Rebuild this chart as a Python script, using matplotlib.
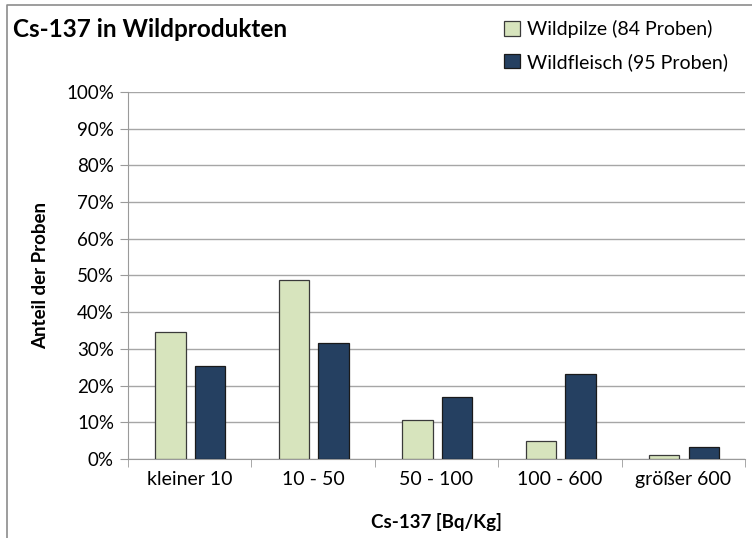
import matplotlib.pyplot as plt
import numpy as np
from matplotlib.lines import Line2D

plt.rcParams['font.family'] = ['Lato', 'DejaVu Sans']

categories = ["kleiner 10", "10 - 50", "50 - 100", "100 - 600", "größer 600"]
wildpilze = np.array([34.5, 48.8, 10.7, 4.8, 1.2])
wildfleisch = np.array([25.3, 31.6, 16.8, 23.2, 3.2])

fig = plt.figure(figsize=(7.52, 5.38), dpi=100)
ax = fig.add_axes([0.170, 0.147, 0.821, 0.682])

x = np.arange(len(categories))
w = 0.245
ax.bar(x - 0.155, wildpilze, w, color="#d7e4bd", edgecolor="#3a3a3a", linewidth=0.9,
       label="Wildpilze (84 Proben)", zorder=3)
ax.bar(x + 0.165, wildfleisch, w, color="#254061", edgecolor="#1a1a1a", linewidth=0.9,
       label="Wildfleisch (95 Proben)", zorder=3)

ax.set_xlim(-0.5, len(categories) - 0.5)
ax.set_ylim(0, 100)
ax.set_yticks(np.arange(0, 101, 10))
ax.set_yticklabels([f"{v}%" for v in range(0, 101, 10)], fontsize=13.5)
ax.set_xticks(x)
ax.set_xticklabels(categories, fontsize=14)
ax.tick_params(axis='x', length=0, pad=9)
ax.set_xticks(np.arange(-0.5, len(categories)), minor=True)
ax.tick_params(axis='x', which='minor', length=6, color="#9a9a9a")
ax.tick_params(axis='y', length=6, color="#9a9a9a", pad=4)
ax.grid(axis='y', color="#a6a6a6", linewidth=1.0, zorder=0)

for s in ['top', 'right']:
    ax.spines[s].set_visible(False)
for s in ['left', 'bottom']:
    ax.spines[s].set_color("#9a9a9a")

ax.set_xlabel("Cs-137 [Bq/Kg]", fontsize=13.5, fontweight='bold', labelpad=18)
ax.set_ylabel("Anteil der Proben", fontsize=13.5, fontweight='bold', labelpad=12)

fig.text(0.017, 0.945, "Cs-137 in Wildprodukten", fontsize=17.5, fontweight='bold', va='center')
fig.legend(loc='upper right', bbox_to_anchor=(0.992, 0.995), frameon=False, fontsize=14,
           handlelength=0.8, handleheight=0.8, handletextpad=0.4, labelspacing=0.75)

fig.lines.append(Line2D([0.009, 0.009, 1.0], [0.0, 0.99, 0.99], transform=fig.transFigure,
                        color="#8c8c8c", linewidth=1.2))

fig.savefig("out.png", dpi=100)
